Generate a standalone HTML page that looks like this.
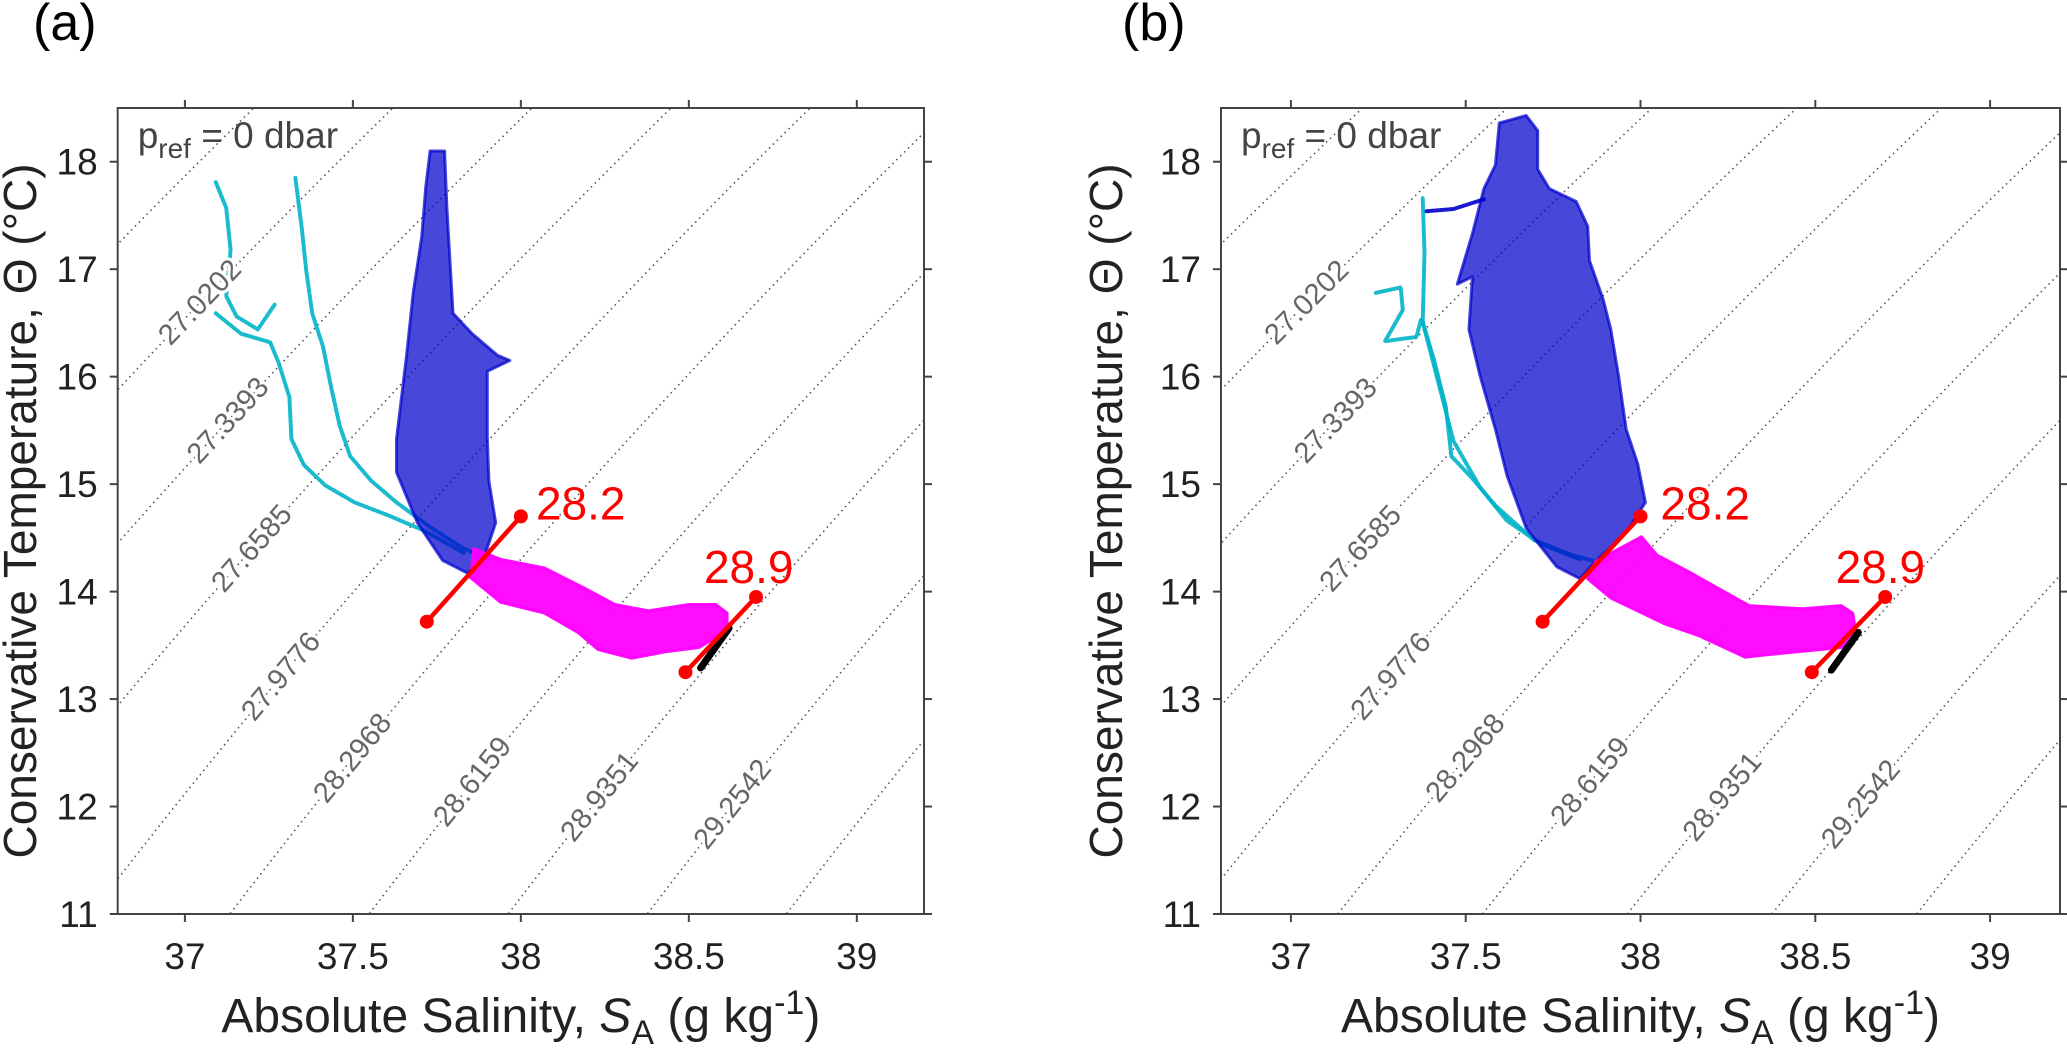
<!DOCTYPE html>
<html><head><meta charset="utf-8">
<style>
html,body{margin:0;padding:0;background:#fff;}
svg{display:block;font-family:"Liberation Sans","DejaVu Sans",sans-serif;}
</style></head>
<body>
<svg id="fig" width="2067" height="1053" viewBox="0 0 2067 1053" xmlns="http://www.w3.org/2000/svg"></svg>
<script>
// ---- shared axis data ----
const xTicks = [37, 37.5, 38, 38.5, 39];
const yTicks = [11, 12, 13, 14, 15, 16, 17, 18];
const contourLabels = ["27.0202","27.3393","27.6585","27.9776","28.2968","28.6159","28.9351","29.2542"];
const contourLabelT = [16.69, 15.59, 14.40, 13.21, 12.45, 12.23, 12.09, 12.02];
const contourIndex = [-3, -2, -1, 0, 1, 2, 3, 4];
const refLineLabels = ["28.2", "28.9"];
const ref282 = [[37.72, 13.72], [38.0, 14.70]];
const ref289 = [[38.49, 13.25], [38.70, 13.95]];

// ---- panel (a) series ----
const aBlue = [[37.730,18.10],[37.773,18.10],[37.780,17.57],[37.798,16.59],[37.855,16.40],[37.930,16.20],[37.967,16.15],[37.900,16.05],[37.900,15.42],[37.905,15.03],[37.925,14.64],[37.895,14.36],[37.842,14.17],[37.767,14.29],[37.692,14.64],[37.630,15.11],[37.630,15.42],[37.660,16.20],[37.680,16.79],[37.705,17.30],[37.717,17.77]];
const aCyanA = [[37.092,17.81],[37.123,17.57],[37.136,17.18],[37.123,16.75],[37.154,16.56],[37.217,16.44],[37.267,16.67]];
const aCyanB = [[37.329,17.85],[37.348,17.38],[37.361,16.99],[37.379,16.59],[37.411,16.28],[37.436,15.89],[37.461,15.54],[37.492,15.26],[37.555,15.03],[37.630,14.83],[37.730,14.60],[37.830,14.40],[37.905,14.30]];
const aCyanC = [[37.092,16.59],[37.167,16.40],[37.254,16.32],[37.279,16.13],[37.311,15.81],[37.317,15.42],[37.354,15.18],[37.417,14.99],[37.505,14.83],[37.605,14.71],[37.717,14.56],[37.830,14.36]];
const aMagenta = [[37.86,14.40],[37.94,14.30],[38.07,14.22],[38.19,14.03],[38.28,13.88],[38.38,13.82],[38.50,13.88],[38.58,13.88],[38.614,13.80],[38.614,13.64],[38.53,13.48],[38.43,13.44],[38.33,13.38],[38.23,13.46],[38.17,13.62],[38.07,13.80],[37.94,13.90],[37.85,14.13]];
const aBlack = [[38.535,13.29],[38.62,13.66]];

// ---- panel (b) series ----
const bBlue = [[37.673,18.43],[37.706,18.29],[37.706,17.93],[37.739,17.75],[37.816,17.63],[37.849,17.40],[37.854,17.08],[37.893,16.72],[37.915,16.44],[37.937,16.01],[37.959,15.51],[37.992,15.19],[38.014,14.83],[37.959,14.55],[37.871,14.28],[37.827,14.12],[37.761,14.23],[37.673,14.59],[37.618,15.08],[37.585,15.51],[37.541,16.01],[37.509,16.44],[37.519,16.93],[37.476,16.86],[37.519,17.33],[37.552,17.75],[37.585,17.97],[37.596,18.36],[37.629,18.39]];
const bBlueArm = [[37.388,17.54],[37.465,17.56],[37.552,17.65]];
const bCyanA = [[37.377,17.66],[37.382,17.15],[37.377,16.51],[37.410,16.15],[37.443,15.72],[37.459,15.26],[37.520,15.05],[37.585,14.80],[37.695,14.48],[37.805,14.34],[37.871,14.28]];
const bCyanB = [[37.377,16.51],[37.465,15.40],[37.541,14.97],[37.618,14.66],[37.717,14.44],[37.827,14.30]];
const bCyanC = [[37.243,16.78],[37.314,16.83],[37.320,16.62],[37.269,16.33],[37.359,16.37],[37.372,16.53]];
const bMagenta = [[37.871,14.28],[38.003,14.51],[38.047,14.34],[38.135,14.19],[38.211,14.05],[38.310,13.87],[38.464,13.84],[38.574,13.87],[38.607,13.80],[38.618,13.59],[38.574,13.48],[38.354,13.41],[38.299,13.39],[38.167,13.59],[38.069,13.70],[37.915,13.94],[37.849,14.12]];
const bBlack = [[38.546,13.27],[38.623,13.62]];

const NS = "http://www.w3.org/2000/svg";
const fig = document.getElementById('fig');
function mk(tag, attrs, parent){ const e=document.createElementNS(NS,tag); for(const k in attrs) e.setAttribute(k,attrs[k]); (parent||fig).appendChild(e); return e; }

function gT(T){ const d=T-11; return 0.2442*d+0.0055*d*d; }
function gP(T){ return 0.2442+0.011*(T-11); }
function contourS(k,T){ return 36.72+0.414*k+gT(T); }

function panel(cfg){
  const {x0,x1,y0,y1,id} = cfg;
  const xmin=36.8,xmax=39.2,ymin=11,ymax=18.5;
  const sx=v=>x0+(v-xmin)/(xmax-xmin)*(x1-x0);
  const sy=v=>y1-(v-ymin)/(ymax-ymin)*(y1-y0);
  const g=mk('g',{});
  
  
  const clipId='clip-'+id;
  const cp=mk('clipPath',{id:clipId},g); mk('rect',{x:x0,y:y0,width:x1-x0,height:y1-y0},cp);
  const plot=mk('g',{'clip-path':'url(#'+clipId+')'},g);
  
  

  for(let k=-6;k<=7;k++){
    let d='';
    for(let T=10.8;T<=18.7;T+=0.1){ d+=(d?'L':'M')+sx(contourS(k,T)).toFixed(1)+','+sy(T).toFixed(1); }
    const p=mk('path',{d:d,fill:'none',stroke:'#555','stroke-width':1.6,'stroke-dasharray':'1.5 4'},plot);
    
    
  }
  const pts=a=>a.map(p=>sx(p[0]).toFixed(1)+','+sy(p[1]).toFixed(1)).join(' ');
  function poly(arr,col,op,name){
    const e=mk('polygon',{points:pts(arr),fill:col,'fill-opacity':op,stroke:col,'stroke-width':3,'stroke-opacity':op,'stroke-linejoin':'round'},plot);
    
    
  }
  function line(arr,col,w,op,name){
    const e=mk('polyline',{points:pts(arr),fill:'none',stroke:col,'stroke-width':w,'stroke-opacity':op,'stroke-linejoin':'round','stroke-linecap':'round','stroke-dasharray':'2.5 2'},plot);
    
    
  }
  cfg.cyan.forEach(c=>line(c,'#00b4c8',4,0.9,'cyan-profile'));
  poly(cfg.blue,'#0000cc',0.72,'blue-scatter');
  (cfg.blueArm||[]).forEach(c=>line(c,'#0000cc',4,0.9,'blue-profile'));
  poly(cfg.mag,'#ff00ff',0.95,'magenta-scatter');
  const bk=mk('polyline',{points:pts(cfg.black),fill:'none',stroke:'#000','stroke-width':7,'stroke-linecap':'round'},plot);
  
  
  const pxS=(x1-x0)/(xmax-xmin), pxT=(y1-y0)/(ymax-ymin);
  for(let i=0;i<contourLabels.length;i++){
    const T=contourLabelT[i], S=contourS(contourIndex[i],T);
    const ang=-Math.atan(pxT/(gP(T)*pxS))*180/Math.PI;
    const t=mk('text',{x:sx(S),y:sy(T),'font-size':29,fill:'#666','text-anchor':'middle','dominant-baseline':'central',transform:`rotate(${ang.toFixed(1)} ${sx(S).toFixed(1)} ${sy(T).toFixed(1)})`,stroke:'#fff','stroke-width':6,'paint-order':'stroke'},plot);
    t.textContent=contourLabels[i];
    
    
  }
  [ref282,ref289].forEach((r,i)=>{
    const l=mk('line',{x1:sx(r[0][0]),y1:sy(r[0][1]),x2:sx(r[1][0]),y2:sy(r[1][1]),stroke:'#ff0000','stroke-width':4.5},g);
    
    
    r.forEach(p=>{ const c=mk('circle',{cx:sx(p[0]),cy:sy(p[1]),r:7,fill:'#ff0000'},g);
      
       });
  });
  [[cfg.lab282,refLineLabels[0]],[cfg.lab289,refLineLabels[1]]].forEach(q=>{
    const t=mk('text',{x:sx(q[0][0]),y:sy(q[0][1]),'font-size':46,fill:'#ff0000'},g);
    t.textContent=q[1];
    
    
  });
  const fr=mk('rect',{x:x0,y:y0,width:x1-x0,height:y1-y0,fill:'none',stroke:'#444','stroke-width':2},g);
  
  
  xTicks.forEach(v=>{
    mk('line',{x1:sx(v),x2:sx(v),y1:y1,y2:y1+8,stroke:'#444','stroke-width':2},g);
    mk('line',{x1:sx(v),x2:sx(v),y1:y0,y2:y0-8,stroke:'#444','stroke-width':2},g);
    const t=mk('text',{x:sx(v),y:y1+55,'font-size':37,fill:'#222','text-anchor':'middle'},g);
    t.textContent=String(v);
    
    
  });
  yTicks.forEach(v=>{
    mk('line',{x1:x0,x2:x0-8,y1:sy(v),y2:sy(v),stroke:'#444','stroke-width':2},g);
    mk('line',{x1:x1,x2:x1+8,y1:sy(v),y2:sy(v),stroke:'#444','stroke-width':2},g);
    const t=mk('text',{x:x0-20,y:sy(v)+13,'font-size':37,fill:'#222','text-anchor':'end'},g);
    t.textContent=String(v);
    
    
  });
  const pr=mk('text',{x:x0+20,y:y0+40,'font-size':37,fill:'#444'},g);
  
  
  pr.innerHTML='p<tspan font-size="28" dy="10">ref</tspan><tspan dy="-10"> = 0 dbar</tspan>';
  const xl=mk('text',{x:(x0+x1)/2,y:1032,'font-size':48,fill:'#222','text-anchor':'middle'},g);
  
  
  xl.innerHTML='Absolute Salinity, <tspan font-style="italic">S</tspan><tspan font-size="34" dy="12">A</tspan><tspan dy="-12"> (g kg</tspan><tspan font-size="34" dy="-18">-1</tspan><tspan dy="18">)</tspan>';
  const yl=mk('text',{x:0,y:0,'font-size':46,fill:'#222','text-anchor':'middle',transform:`translate(${cfg.ylx},${(y0+y1)/2}) rotate(-90)`},g);
  
  
  yl.textContent='Conservative Temperature,  Θ (°C)';
  const pl=mk('text',{x:cfg.plx,y:40,'font-size':52,fill:'#000'},g);
  pl.textContent=cfg.tag;
  
  
}

panel({id:'a',tag:'(a)',x0:117.7,x1:924,y0:108,y1:914,ylx:36,plx:33,
  blue:aBlue,cyan:[aCyanA,aCyanB,aCyanC],mag:aMagenta,black:aBlack,
  lab282:[38.045,14.67],lab289:[38.545,14.08]});
panel({id:'b',tag:'(b)',x0:1221,x1:2060,y0:108,y1:914,ylx:1122,plx:1122,
  blue:bBlue,blueArm:[bBlueArm],cyan:[bCyanA,bCyanB,bCyanC],mag:bMagenta,black:bBlack,
  lab282:[38.057,14.67],lab289:[38.558,14.08]});
</script>
</body></html>
